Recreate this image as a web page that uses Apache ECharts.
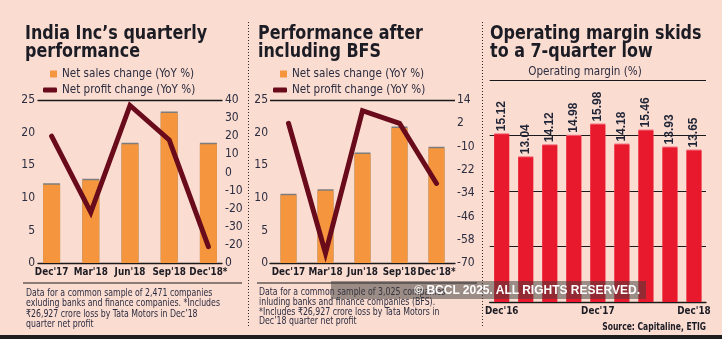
<!DOCTYPE html>
<html>
<head>
<meta charset="utf-8">
<script src="https://cdn.jsdelivr.net/npm/echarts@6/dist/echarts.min.js"></script>
<style>
  html, body { margin: 0; padding: 0; background: #fbdcd1; }
  #wrap { position: relative; width: 722px; height: 339px; overflow: hidden; }
  .panel { position: absolute; top: 0; height: 339px; }
  #p1 { left: 0; width: 248px; }
  #p2 { left: 248px; width: 234px; }
  #p3 { left: 482px; width: 240px; }
  #stamp {
    position: absolute; left: 331px; top: 281px; width: 315px; height: 18px;
    box-sizing: border-box; padding-right: 6px; z-index: 10;
    background: rgba(60, 60, 60, 0.5); color: #ffffff; text-align: right;
    font: bold 12px "Liberation Sans", Arial, sans-serif; line-height: 18px; white-space: nowrap;
  }
</style>
</head>
<body>
<div id="wrap">
  <div id="p1" class="panel"></div>
  <div id="p2" class="panel"></div>
  <div id="p3" class="panel"></div>
  <div id="stamp">&copy; BCCL 2025. ALL RIGHTS RESERVED.</div>
</div>
<script>
// quarterly results, common sample of listed companies
var quarters = ["Dec'17", "Mar'18", "Jun'18", "Sep'18", "Dec'18*"];
var salesIndiaInc = [12.0, 12.7, 18.2, 23.0, 18.2];
var profitIndiaInc = [20, -22, 37, 18, -41];
var salesWithBfs = [10.4, 11.1, 16.7, 20.7, 17.6];
var profitWithBfs = [2, -65, 8.5, 2, -29];

// right-hand tick labels of the first panel, top to bottom, as printed
var profitTicksIndiaInc = ['40', '30', '20', '10', '0', '-10', '-20', '-30', '-20', '0'];

var marginQuarters = ["Dec'16", "Mar'17", "Jun'17", "Sep'17", "Dec'17", "Mar'18", "Jun'18", "Sep'18", "Dec'18"];
var operatingMargin = [15.12, 13.04, 14.12, 14.98, 15.98, 14.18, 15.46, 13.93, 13.65];

var SALES = 'Net sales change (YoY %)';
var PROFIT = 'Net profit change (YoY %)';

var NARROW = '"DejaVu Sans Condensed", "Liberation Sans Narrow", sans-serif';
var INK = '#1c1c24';
var TEXT = '#2b2d40';
var BG = '#fbdcd1';
var ORANGE = '#f5963e';
var MAROON = '#6a0b1c';
var RED = '#e8192c';

var tickStyle = { fontFamily: NARROW, fontSize: 12, color: TEXT };
var catStyle = { fontFamily: NARROW, fontWeight: 'bold', fontSize: 9.8, color: INK, margin: 4, interval: 0 };
var rule = { onZero: false, lineStyle: { color: '#1a1a1a', width: 1.3 } };
var noLine = { show: false };
var noTick = { show: false };

var salesBar = { color: ORANGE, shadowColor: '#7c7c7c', shadowOffsetY: -1.5, shadowBlur: 0 };
var profitLine = { color: MAROON, width: 5, cap: 'round', join: 'miter', miterLimit: 4 };

function legendItem(name, icon, left, top, w, h) {
  return {
    data: [{ name: name, icon: icon }],
    left: left, top: top, padding: 0,
    itemWidth: w, itemHeight: h,
    selectedMode: false,
    textStyle: { fontFamily: NARROW, fontSize: 11.6, color: TEXT }
  };
}

// two-line panel heading, squeezed to the narrow newspaper face
function heading(text, x) {
  return {
    type: 'text', x: x, y: 25, scaleX: 0.91,
    style: {
      text: text, fontFamily: NARROW, fontWeight: 'bold', fontSize: 19.5, lineHeight: 18,
      fill: INK, verticalAlign: 'top'
    }
  };
}

function footnote(text, x, y, lh) {
  return {
    type: 'text', x: x, y: y, scaleX: 0.82,
    style: { text: text, fontFamily: NARROW, fontSize: 10.6, lineHeight: lh, fill: TEXT, verticalAlign: 'top' }
  };
}

function hline(x1, x2, y) {
  return { type: 'line', shape: { x1: x1, y1: y, x2: x2, y2: y }, style: { stroke: '#1a1a1a', lineWidth: 1 } };
}

// dotted divider on the left edge of a panel
var divider = { type: 'line', shape: { x1: 0.5, y1: 22, x2: 0.5, y2: 327 }, style: { stroke: '#2a2a2a', lineWidth: 1, lineDash: [1, 2] } };

function bottomStrip(w) {
  return { type: 'rect', shape: { x: 0, y: 335, width: w, height: 4 }, style: { fill: '#1e1e1e' } };
}

// panel 1: India Inc without banks
var chart1 = echarts.init(document.getElementById('p1'));
chart1.setOption({
  backgroundColor: BG,
  animation: false,
  legend: [
    legendItem(SALES, 'rect', 50, 68, 7, 7),
    legendItem(PROFIT, 'roundRect', 43, 84, 14, 5)
  ],
  grid: [
    { left: 38, top: 100, width: 184, height: 163 },   // frame and scales
    { left: 32, top: 100, width: 196, height: 163 }    // bars and line
  ],
  xAxis: [
    { gridIndex: 0, type: 'category', data: quarters, position: 'bottom', axisLine: rule, axisTick: noTick, axisLabel: { show: false } },
    { gridIndex: 0, type: 'category', data: quarters, position: 'top', axisLine: rule, axisTick: noTick, axisLabel: { show: false } },
    { gridIndex: 1, type: 'category', data: quarters, axisLine: { show: false, onZero: false }, axisTick: noTick, axisLabel: catStyle }
  ],
  yAxis: [
    {
      gridIndex: 0, type: 'value', min: 0, max: 25, interval: 5, position: 'left',
      splitLine: { show: false }, axisLine: noLine, axisTick: noTick,
      axisLabel: Object.assign({}, tickStyle, { margin: 3 })
    },
    {
      gridIndex: 0, type: 'value', min: -50, max: 40, interval: 10, position: 'right',
      splitLine: { show: false }, axisLine: noLine, axisTick: noTick,
      axisLabel: Object.assign({}, tickStyle, {
        margin: 3,
        formatter: function (v, i) {
          return profitTicksIndiaInc[profitTicksIndiaInc.length - 1 - i];
        }
      })
    },
    { gridIndex: 1, type: 'value', min: 0, max: 25, position: 'left', show: false },
    { gridIndex: 1, type: 'value', min: -50, max: 40, position: 'right', show: false }
  ],
  series: [
    { name: SALES, type: 'bar', xAxisIndex: 2, yAxisIndex: 2, data: salesIndiaInc, barWidth: 17, itemStyle: salesBar },
    { name: PROFIT, type: 'line', xAxisIndex: 2, yAxisIndex: 3, data: profitIndiaInc, showSymbol: false, lineStyle: profitLine, itemStyle: { color: MAROON } }
  ],
  graphic: [
    heading('India Inc\u2019s quarterly\nperformance', 25),
    hline(23, 242, 283),
    footnote('Data for a common sample of 2,471 companies\nexluding banks and finance companies. *Includes\n\u20b926,927 crore loss by Tata Motors in Dec\u201918\nquarter net profit', 26, 288, 10.3),
    bottomStrip(248)
  ]
});

// panel 2: same sample with banks and financial services
var chart2 = echarts.init(document.getElementById('p2'));
chart2.setOption({
  backgroundColor: BG,
  animation: false,
  legend: [
    legendItem(SALES, 'rect', 32, 68, 7, 7),
    legendItem(PROFIT, 'roundRect', 25, 84, 14, 5)
  ],
  grid: { left: 22, top: 100, width: 185, height: 163 },
  xAxis: { type: 'category', data: quarters, axisLine: rule, axisTick: noTick, axisLabel: catStyle },
  yAxis: [
    {
      type: 'value', min: 0, max: 25, interval: 5, position: 'left',
      splitLine: { show: false }, axisLine: noLine, axisTick: noTick,
      axisLabel: Object.assign({}, tickStyle, { margin: 2 })
    },
    {
      type: 'value', min: -70, max: 14, interval: 12, position: 'right',
      splitLine: { show: false }, axisLine: noLine, axisTick: noTick,
      axisLabel: Object.assign({}, tickStyle, { margin: 2 })
    }
  ],
  series: [
    {
      name: SALES, type: 'bar', yAxisIndex: 0, data: salesWithBfs, barWidth: 16, itemStyle: salesBar,
      // rule across the top of the panel at the scale maximum
      markLine: {
        silent: true, symbol: 'none', label: { show: false },
        lineStyle: { color: '#1a1a1a', width: 1.3, type: 'solid' },
        data: [{ yAxis: 25 }]
      }
    },
    { name: PROFIT, type: 'line', yAxisIndex: 1, data: profitWithBfs, showSymbol: false, lineStyle: profitLine, itemStyle: { color: MAROON } }
  ],
  graphic: [
    divider,
    heading('Performance after\nincluding BFS', 10),
    hline(9, 229, 283),
    footnote('Data for a common sample of 3,025 companies\ninluding banks and finance companies (BFS).\n*Includes \u20b926,927 crore loss by Tata Motors in\nDec\u201918 quarter net profit', 11, 287, 9.9),
    bottomStrip(234)
  ]
});

// panel 3: operating margin by quarter
var chart3 = echarts.init(document.getElementById('p3'));
chart3.setOption({
  backgroundColor: BG,
  animation: false,
  title: {
    text: 'Operating margin (%)', left: 103, textAlign: 'center', top: 66, padding: 0,
    textStyle: { fontFamily: NARROW, fontSize: 11.6, fontWeight: 'normal', color: TEXT }
  },
  grid: { left: 7, top: 80, width: 217, height: 222 },
  xAxis: {
    type: 'category', data: marginQuarters, axisLine: rule, axisTick: noTick,
    axisLabel: Object.assign({}, catStyle, { interval: 3 })
  },
  yAxis: {
    type: 'value', min: 0, max: 20, interval: 5,
    axisLine: noLine, axisTick: noTick, axisLabel: { show: false },
    splitLine: { lineStyle: { color: '#1a1a1a', width: 1 } }
  },
  series: [
    {
      name: 'Operating margin', type: 'bar', data: operatingMargin, barWidth: 15,
      itemStyle: { color: RED, shadowColor: '#f27784', shadowOffsetY: -1, shadowBlur: 0 },
      label: {
        show: true, position: 'top', rotate: 90, align: 'left', verticalAlign: 'middle', distance: 3,
        fontFamily: '"Liberation Sans", Arial, sans-serif', fontWeight: 'bold', fontSize: 12, color: '#1f2436',
        formatter: function (p) { return p.value.toFixed(2); }
      }
    }
  ],
  graphic: [
    divider,
    heading('Operating margin skids\nto a 7-quarter low', 8),
    {
      type: 'text', x: 224, y: 327, scaleX: 0.8,
      style: {
        text: 'Source: Capitaline, ETIG', fontFamily: NARROW, fontWeight: 'bold', fontSize: 10.6,
        fill: INK, align: 'right', verticalAlign: 'middle'
      }
    },
    bottomStrip(240)
  ]
});
</script>
</body>
</html>
